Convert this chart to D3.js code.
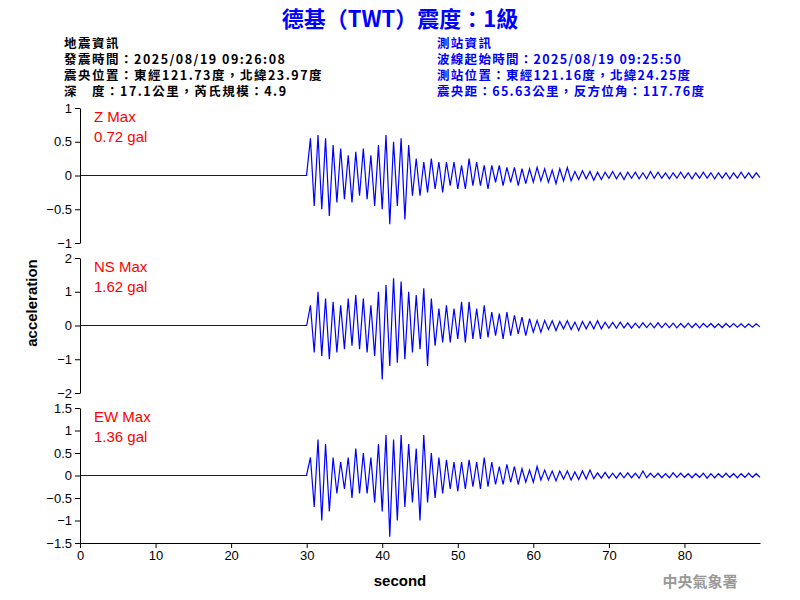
<!DOCTYPE html><html><head><meta charset="utf-8"><script src="https://cdn.jsdelivr.net/npm/d3@7"></script>
<style>body{margin:0;background:#fff}text{font-family:Arial,"Liberation Sans",sans-serif}.cjk{font-family:"Noto Sans CJK TC",sans-serif}</style></head><body>
<svg id="c" width="800" height="600"></svg>
<script>
const startT = 30, step = 0.5;
const channels = ["Z", "NS", "EW"];
const maxLabels = ["0.72 gal", "1.62 gal", "1.36 gal"];
const yDomains = [[-1, 1], [-2, 2], [-1.5, 1.5]];
const yTicks = [[-1,-0.5,0,0.5,1],[-2,-1,0,1,2],[-1.5,-1,-0.5,0,0.5,1,1.5]];
const xTicks = [0,10,20,30,40,50,60,70,80];
const zVals = [0.02,0.55,-0.45,0.6,-0.5,0.55,-0.6,0.45,-0.4,0.4,-0.35,0.3,-0.4,0.35,-0.3,0.4,-0.35,0.3,-0.45,0.45,-0.5,0.6,-0.72,0.5,-0.45,0.55,-0.65,0.45,-0.3,0.25,-0.3,0.2,-0.25,0.25,-0.2,0.2,-0.25,0.2,-0.15,0.2,-0.2,0.15,-0.2,0.25,-0.15,0.2,-0.15,0.15,-0.2,0.15,-0.1,0.15,-0.15,0.12,-0.1,0.12,-0.15,0.1,-0.12,0.1,-0.1,0.12,-0.08,0.1,-0.1,0.08,-0.12,0.1,-0.08,0.12,-0.08,0.06,-0.06,0.07,-0.05,0.06,-0.07,0.05,-0.06,0.05,-0.04,0.06,-0.05,0.04,-0.06,0.05,-0.04,0.05,-0.05,0.04,-0.05,0.06,-0.04,0.05,-0.04,0.04,-0.05,0.04,-0.04,0.05,-0.04,0.04,-0.05,0.04,-0.04,0.05,-0.04,0.04,-0.05,0.04,-0.04,0.04,-0.05,0.04,-0.04,0.05,-0.04,0.04,-0.04,0.04,-0.03];
const nsVals = [0,0.6,-0.8,1.0,-0.9,0.8,-1.0,0.7,-0.8,0.6,-0.7,0.8,-0.6,0.9,-0.7,0.8,-0.8,0.6,-0.9,1.0,-1.6,1.2,-1.2,1.4,-1.1,1.3,-1.0,1.0,-0.8,0.9,-0.7,1.1,-1.2,0.8,-0.6,0.5,-0.5,0.6,-0.5,0.5,-0.4,0.7,-0.5,0.7,-0.4,0.5,-0.4,0.6,-0.35,0.4,-0.3,0.35,-0.4,0.4,-0.3,0.3,-0.25,0.25,-0.3,0.2,-0.2,0.15,-0.2,0.15,-0.12,0.14,-0.15,0.12,-0.1,0.14,-0.12,0.1,-0.15,0.12,-0.1,0.12,-0.1,0.14,-0.1,0.1,-0.08,0.09,-0.08,0.1,-0.07,0.08,-0.08,0.07,-0.07,0.08,-0.06,0.07,-0.07,0.08,-0.06,0.07,-0.06,0.07,-0.07,0.06,-0.06,0.07,-0.06,0.06,-0.07,0.06,-0.05,0.06,-0.06,0.05,-0.06,0.06,-0.05,0.06,-0.05,0.05,-0.06,0.05,-0.05,0.05,-0.04];
const ewVals = [0.02,0.4,-0.7,0.8,-1.0,0.7,-0.8,0.4,-0.4,0.3,-0.3,0.4,-0.5,0.6,-0.4,0.5,-0.4,0.4,-0.6,0.7,-0.8,0.9,-1.36,0.8,-1.0,0.9,-0.7,0.7,-0.6,0.6,-1.0,0.9,-0.6,0.5,-0.5,0.4,-0.4,0.35,-0.3,0.3,-0.35,0.3,-0.3,0.35,-0.25,0.3,-0.3,0.4,-0.25,0.3,-0.2,0.2,-0.2,0.25,-0.15,0.2,-0.2,0.15,-0.15,0.12,-0.15,0.2,-0.1,0.12,-0.1,0.1,-0.12,0.1,-0.08,0.1,-0.1,0.08,-0.09,0.1,-0.08,0.12,-0.07,0.06,-0.06,0.07,-0.06,0.05,-0.06,0.06,-0.05,0.06,-0.05,0.05,-0.06,0.1,-0.05,0.05,-0.04,0.05,-0.05,0.04,-0.05,0.06,-0.04,0.05,-0.04,0.04,-0.05,0.04,-0.04,0.05,-0.06,0.04,-0.05,0.04,-0.04,0.05,-0.04,0.04,-0.05,0.04,-0.04,0.05,-0.04,0.04,-0.04];
const series = [zVals, nsVals, ewVals];
const infoLeft = ["地震資訊","發震時間：2025/08/19 09:26:08","震央位置：東經121.73度，北緯23.97度","深　度：17.1公里，芮氏規模：4.9"];
const infoRight = ["測站資訊","波線起始時間：2025/08/19 09:25:50","測站位置：東經121.16度，北緯24.25度","震央距：65.63公里，反方位角：117.76度"];

const svg = d3.select("#c");
const x = d3.scaleLinear().domain([0, 90]).range([80, 760]);
const panelTops = [108, 258, 408], panelH = 135;

svg.append("text").attr("class","cjk").attr("x",400).attr("y",27).attr("text-anchor","middle")
  .attr("fill","#0000ff").attr("font-size",22).attr("font-weight","bold").text("德基（TWT）震度：1級");
infoLeft.forEach((t,i)=>svg.append("text").attr("class","cjk").attr("x",64).attr("y",48+i*16).attr("font-size",12.5).attr("letter-spacing",1.5).attr("font-weight","bold").attr("fill","#000").text(t));
infoRight.forEach((t,i)=>svg.append("text").attr("class","cjk").attr("x",437).attr("y",48+i*16).attr("font-size",12.5).attr("letter-spacing",1.3).attr("font-weight","bold").attr("fill","#0000ff").text(t));

series.forEach((vals,k)=>{
  const y = d3.scaleLinear().domain(yDomains[k]).range([panelTops[k]+panelH, panelTops[k]]);
  const pts = [[0,0],[startT,0]].concat(vals.map((v,i)=>[startT+i*step, v]));
  svg.append("path").datum(pts).attr("fill","none").attr("stroke","#0000ff").attr("stroke-width",1.2)
    .attr("d", d3.line().x(d=>x(d[0])).y(d=>y(d[1])));
  const ax = svg.append("g").attr("transform","translate(80,0)")
    .call(d3.axisLeft(y).tickValues(yTicks[k]).tickSize(5).tickSizeOuter(0).tickFormat(d3.format("")));
  ax.selectAll("text").attr("font-size",13).attr("font-family","Arial");
  svg.append("text").attr("x",94).attr("y",panelTops[k]+14).attr("fill","#ff0000").attr("font-size",15).text(channels[k]+" Max");
  svg.append("text").attr("x",94).attr("y",panelTops[k]+34).attr("fill","#ff0000").attr("font-size",15).text(maxLabels[k]);
});
const xa = svg.append("g").attr("transform","translate(0,543)")
  .call(d3.axisBottom(x).tickValues(xTicks).tickSize(5).tickSizeOuter(0));
xa.selectAll("text").attr("font-size",13).attr("font-family","Arial");
svg.append("text").attr("x",400).attr("y",586).attr("text-anchor","middle").attr("font-size",15).attr("font-weight","bold").text("second");
svg.append("text").attr("transform","translate(37,303) rotate(-90)").attr("text-anchor","middle").attr("font-size",15).attr("font-weight","bold").text("acceleration");
svg.append("text").attr("class","cjk").attr("x",700).attr("y",587).attr("text-anchor","middle").attr("font-size",15).attr("font-weight","bold").attr("fill","#999").text("中央氣象署");
</script></body></html>
